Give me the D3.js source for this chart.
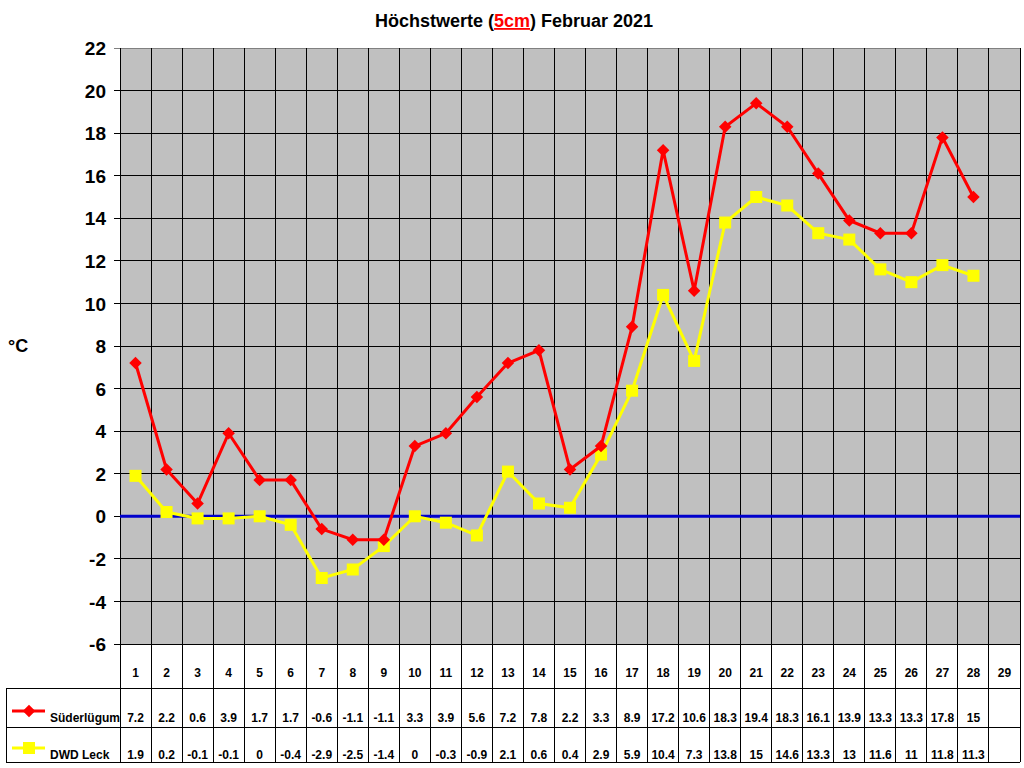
<!DOCTYPE html>
<html lang="de">
<head>
<meta charset="UTF-8" />
<script src="https://d3js.org/d3.v7.min.js"></script>
<title>Höchstwerte (5cm) Februar 2021</title>
<style>
  body { margin: 0; background: #fff; font-family: "Liberation Sans", Arial, sans-serif; }
  svg { display: block; }
  text { font-weight: bold; }
</style>
</head>
<body>
<svg width="1024" height="768"></svg>
<script>
  // Daten
  const days = d3.range(1, 30);
  const suederluegum = [7.2, 2.2, 0.6, 3.9, 1.7, 1.7, -0.6, -1.1, -1.1, 3.3, 3.9, 5.6, 7.2, 7.8,
    2.2, 3.3, 8.9, 17.2, 10.6, 18.3, 19.4, 18.3, 16.1, 13.9, 13.3, 13.3, 17.8, 15];
  const dwdLeck = [1.9, 0.2, -0.1, -0.1, 0, -0.4, -2.9, -2.5, -1.4, 0, -0.3, -0.9, 2.1, 0.6,
    0.4, 2.9, 5.9, 10.4, 7.3, 13.8, 15, 14.6, 13.3, 13, 11.6, 11, 11.8, 11.3];
  const yTicks = d3.range(-6, 23, 2);

  const plotL = 120, plotR = 1020, plotT = 48, plotB = 644;
  const svg = d3.select("svg");

  const x = d3.scaleBand().domain(days).range([plotL, plotR]);
  const y = d3.scaleLinear().domain([-6, 22]).range([plotB, plotT]);
  const cx = d => x(d) + x.bandwidth() / 2;

  // Titel
  const title = svg.append("text").attr("x", 514).attr("y", 27)
    .attr("text-anchor", "middle").style("font-size", "18px");
  title.append("tspan").text("Höchstwerte (");
  title.append("tspan").text("5cm").attr("fill", "#ff0000").attr("text-decoration", "underline");
  title.append("tspan").text(") Februar 2021");

  // Plotfläche
  svg.append("rect").attr("x", plotL).attr("y", plotT)
    .attr("width", plotR - plotL).attr("height", plotB - plotT)
    .attr("fill", "#c0c0c0");

  // Gitter
  svg.append("g").selectAll("line").data(yTicks).join("line")
    .attr("x1", plotL - 6).attr("x2", plotR)
    .attr("y1", d => y(d)).attr("y2", d => y(d))
    .attr("stroke", d => d === 22 ? "#808080" : "#000").attr("stroke-width", 1)
    .attr("shape-rendering", "crispEdges");
  svg.append("g").selectAll("line").data(days).join("line")
    .attr("x1", d => x(d)).attr("x2", d => x(d))
    .attr("y1", plotT).attr("y2", 762)
    .attr("stroke", "#000").attr("shape-rendering", "crispEdges");
  svg.append("line").attr("x1", plotR).attr("x2", plotR).attr("y1", plotT).attr("y2", 762)
    .attr("stroke", "#000").attr("shape-rendering", "crispEdges");

  // y-Achse
  const yAxis = d3.axisLeft(y).tickValues(yTicks).tickSize(0).tickPadding(14)
    .tickFormat(d => String(d));
  const ya = svg.append("g").attr("transform", `translate(${plotL},0)`).call(yAxis);
  ya.select(".domain").attr("stroke", "#000");
  ya.selectAll("text").style("font-size", "19px").style("font-family", "Liberation Sans, Arial")
    .attr("fill", "#000").attr("dy", "0.35em");

  svg.append("text").attr("x", 8).attr("y", 352).style("font-size", "18px").text("°C");

  // Nulllinie
  svg.append("line").attr("x1", plotL).attr("x2", plotR)
    .attr("y1", y(0)).attr("y2", y(0))
    .attr("stroke", "#0000cc").attr("stroke-width", 3);

  // Linien
  const line = d3.line().x((d, i) => cx(days[i])).y(d => y(d));
  svg.append("path").datum(dwdLeck).attr("d", line)
    .attr("fill", "none").attr("stroke", "#ffff00").attr("stroke-width", 3);
  svg.append("g").selectAll("rect").data(dwdLeck).join("rect")
    .attr("x", (d, i) => cx(days[i]) - 6).attr("y", d => y(d) - 6)
    .attr("width", 12).attr("height", 12).attr("fill", "#ffff00");

  svg.append("path").datum(suederluegum).attr("d", line)
    .attr("fill", "none").attr("stroke", "#ff0000").attr("stroke-width", 3);
  const diamond = d3.symbol().type(d3.symbolDiamond2).size(100);
  svg.append("g").selectAll("path").data(suederluegum).join("path")
    .attr("d", diamond)
    .attr("transform", (d, i) => `translate(${cx(days[i])},${y(d)})`)
    .attr("fill", "#ff0000");

  // Tabelle
  const rowLines = [688, 727, 762];
  svg.append("g").selectAll("line").data(rowLines).join("line")
    .attr("x1", 6).attr("x2", plotR)
    .attr("y1", d => d).attr("y2", d => d)
    .attr("stroke", "#000").attr("shape-rendering", "crispEdges");
  svg.append("line").attr("x1", 6).attr("x2", 6).attr("y1", 688).attr("y2", 762)
    .attr("stroke", "#000").attr("shape-rendering", "crispEdges");

  svg.append("g").selectAll("text").data(days).join("text")
    .attr("x", d => cx(d)).attr("y", 677).attr("text-anchor", "middle")
    .style("font-size", "12px").text(d => d);
  svg.append("g").selectAll("text").data(suederluegum).join("text")
    .attr("x", (d, i) => cx(days[i])).attr("y", 722).attr("text-anchor", "middle")
    .style("font-size", "12px").text(d => d);
  svg.append("g").selectAll("text").data(dwdLeck).join("text")
    .attr("x", (d, i) => cx(days[i])).attr("y", 759).attr("text-anchor", "middle")
    .style("font-size", "12px").text(d => d);

  // Legende
  svg.append("line").attr("x1", 12).attr("x2", 45).attr("y1", 711).attr("y2", 711)
    .attr("stroke", "#ff0000").attr("stroke-width", 3);
  svg.append("path").attr("d", diamond).attr("transform", "translate(29,711)").attr("fill", "#ff0000");
  svg.append("text").attr("x", 50).attr("y", 722).style("font-size", "12px").text("Süderlügum");

  svg.append("line").attr("x1", 12).attr("x2", 45).attr("y1", 748).attr("y2", 748)
    .attr("stroke", "#ffff00").attr("stroke-width", 3);
  svg.append("rect").attr("x", 23).attr("y", 742).attr("width", 12).attr("height", 12).attr("fill", "#ffff00");
  svg.append("text").attr("x", 50).attr("y", 759).style("font-size", "12px").text("DWD Leck");
</script>
</body>
</html>
